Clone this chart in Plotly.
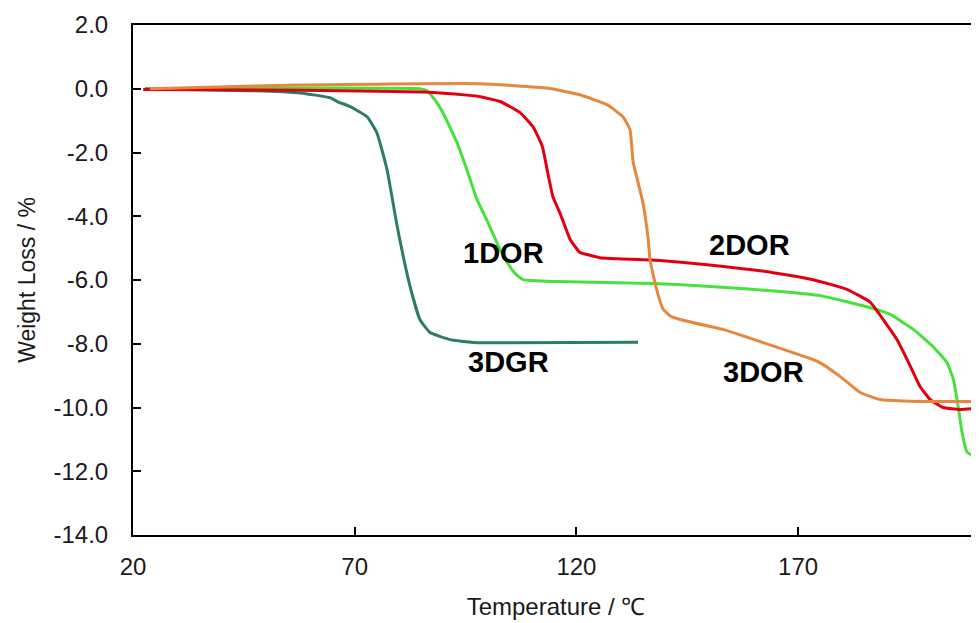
import plotly.graph_objects as go

# ---- data ----
t_3dgr = [22.7, 35.1, 46.4, 57.7, 64.4, 66.2, 69.0, 72.8, 75.0, 77.3, 79.6, 82.5, 84.7, 87.0, 91.5, 96.7, 102.8, 133.9]
w_3dgr = [0.0, -0.03, -0.06, -0.13, -0.28, -0.41, -0.56, -0.88, -1.38, -2.54, -4.33, -6.21, -7.24, -7.65, -7.87, -7.96, -7.97, -7.95]

t_1dor = [23.8, 57.7, 84.7, 86.3, 88.1, 89.9, 93.1, 95.3, 97.6, 99.9, 102.8, 104.4, 106.2, 108.0, 115.6, 137.3, 150.2, 166.0,
          175.0, 186.3, 190.8, 196.0, 200.5, 203.6, 205.0, 206.1, 207.0, 208.1, 210.4, 212.0]
w_1dor = [0.0, 0.02, 0.0, -0.06, -0.35, -0.75, -1.7, -2.54, -3.48, -4.15, -5.05, -5.45, -5.8, -5.99, -6.05, -6.11, -6.2, -6.36,
          -6.49, -6.87, -7.08, -7.55, -8.1, -8.6, -9.1, -9.97, -10.8, -11.4, -11.57, -11.58]

t_2dor = [22.3, 57.7, 85.4, 95.3, 98.3, 102.8, 107.3, 110.2, 112.3, 113.4, 114.7, 116.3, 118.6, 120.8, 122.4, 125.3, 138.9,
          149.5, 164.4, 173.4, 181.1, 186.3, 189.2, 192.3, 195.3, 197.5, 199.8, 202.7, 206.6, 212.0]
w_2dor = [-0.02, -0.05, -0.1, -0.2, -0.25, -0.4, -0.75, -1.19, -1.8, -2.54, -3.39, -3.9, -4.73, -5.14, -5.2, -5.3, -5.39,
          -5.52, -5.77, -5.99, -6.3, -6.7, -7.24, -7.87, -8.7, -9.34, -9.75, -10.0, -10.06, -10.0]

t_3dor = [23.8, 57.7, 98.3, 113.4, 120.8, 126.9, 130.5, 132.1, 132.8, 135.0, 136.2, 136.6, 137.5, 138.4, 139.5, 141.1, 143.4,
          150.2, 153.1, 165.0, 173.4, 175.0, 179.5, 184.0, 188.5, 195.3, 212.0]
w_3dor = [0.0, 0.12, 0.16, 0.02, -0.19, -0.5, -0.88, -1.29, -2.3, -3.57, -4.73, -5.36, -5.95, -6.45, -6.9, -7.12, -7.24,
          -7.46, -7.55, -8.1, -8.5, -8.6, -9.03, -9.53, -9.75, -9.8, -9.81]

labels = ["1DOR", "2DOR", "3DGR", "3DOR"]
label_t = [103.5, 159.0, 104.6, 162.3]
label_w = [-5.15, -4.89, -8.56, -8.88]

y_ticks = [2, 0, -2, -4, -6, -8, -10, -12, -14]
y_ticktext = ["2.0", "0.0", "-2.0", "-4.0", "-6.0", "-8.0", "-10.0", "-12.0", "-14.0"]
x_ticks = [20, 70, 120, 170]

FONT = "Liberation Sans, Arial, sans-serif"

fig = go.Figure()
series = [
    (t_3dgr, w_3dgr, "#2d7b69", "3DGR"),
    (t_1dor, w_1dor, "#45e23b", "1DOR"),
    (t_2dor, w_2dor, "#e2000e", "2DOR"),
    (t_3dor, w_3dor, "#e8863c", "3DOR"),
]
for t, w, c, n in series:
    fig.add_trace(go.Scatter(x=t, y=w, mode="lines", name=n,
                             line=dict(color=c, width=3, shape="spline", smoothing=0.4)))

for txt, tx, ty in zip(labels, label_t, label_w):
    fig.add_annotation(x=tx, y=ty, text=txt, showarrow=False,
                       font=dict(family=FONT, size=29, color="#000000", weight="bold"))

# the page places the figure 8px from the top-left corner, so compensate
fig.update_layout(
    width=979, height=615,
    margin=dict(l=125, r=8, t=17, b=88),
    plot_bgcolor="white", paper_bgcolor="white",
    showlegend=False,
    font=dict(family=FONT, color="#1a1a1a"),
)
fig.update_xaxes(
    range=[20, 210.8], tickvals=x_ticks, ticks="inside", ticklen=8, tickwidth=2, tickcolor="#000",
    showline=True, linecolor="#000", linewidth=2, mirror=True, showgrid=False, zeroline=False,
    automargin=False,
    tickfont=dict(size=24, family=FONT, color="#1a1a1a"), ticklabelstandoff=9,
    title=dict(text="Temperature / \u2103", font=dict(size=24, family=FONT, color="#1a1a1a"), standoff=19),
)
fig.update_yaxes(
    range=[-14, 2], tickvals=y_ticks, ticktext=y_ticktext, ticks="inside", ticklen=8, tickwidth=2, tickcolor="#000",
    showline=True, linecolor="#000", linewidth=2, mirror=False, showgrid=False, zeroline=False,
    automargin=False,
    tickfont=dict(size=24, family=FONT, color="#1a1a1a"), ticklabelstandoff=18,
    title=dict(text="Weight Loss / %", font=dict(size=23, family=FONT, color="#1a1a1a"), standoff=11),
)

fig.write_html("out.html")
